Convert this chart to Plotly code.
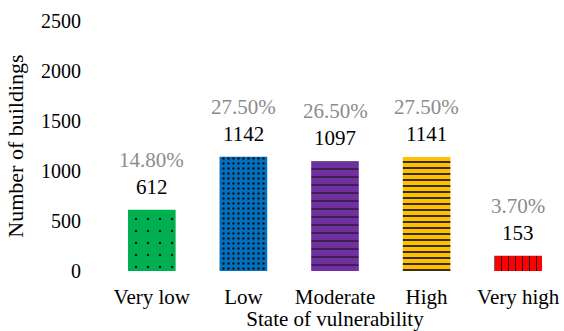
import plotly.graph_objects as go

categories = ["Very low", "Low", "Moderate", "High", "Very high"]
buildings = [612, 1142, 1097, 1141, 153]
percent_labels = ["14.80%", "27.50%", "26.50%", "27.50%", "3.70%"]
bar_colors = ["#00B050", "#0070C0", "#7030A0", "#FFC000", "#FF0000"]
pattern_shapes = [".", ".", "-", "-", "|"]
pattern_sizes = [12, 5, 8, 6, 7]
pattern_solidity = [0.03, 0.18, 0.13, 0.28, 0.15]
y_ticks = [0, 500, 1000, 1500, 2000, 2500]

FONT = "Liberation Serif"

fig = go.Figure()
for i, c in enumerate(categories):
    fig.add_trace(go.Bar(
        x=[c],
        y=[buildings[i]],
        marker=dict(
            color=bar_colors[i],
            line=dict(width=0),
            pattern=dict(
                shape=pattern_shapes[i],
                size=pattern_sizes[i],
                solidity=pattern_solidity[i],
                fgcolor="#111111",
                bgcolor=bar_colors[i],
                fgopacity=1,
                fillmode="overlay",
            ),
        ),
        width=0.52,
        hoverinfo="skip",
    ))

for c, v, p in zip(categories, buildings, percent_labels):
    fig.add_annotation(x=c, y=v, xref="x", yref="y", text=str(v), showarrow=False,
                       yanchor="middle", yshift=23,
                       font=dict(family=FONT, size=21, color="#000000"))
    fig.add_annotation(x=c, y=v, xref="x", yref="y", text=p, showarrow=False,
                       yanchor="middle", yshift=50,
                       font=dict(family=FONT, size=21, color="#8c8c8c"))

fig.update_layout(
    width=564, height=331,
    margin=dict(l=106, r=0, t=21, b=60),
    paper_bgcolor="white", plot_bgcolor="white",
    showlegend=False,
    barmode="overlay",
    font=dict(family=FONT, size=20, color="#000000"),
    xaxis=dict(
        categoryorder="array", categoryarray=categories,
        showline=False, showgrid=False, zeroline=False,
        ticks="outside", ticklen=7, tickcolor="rgba(0,0,0,0)",
        tickfont=dict(family=FONT, size=21),
        title=dict(text="State of vulnerability", font=dict(family=FONT, size=21), standoff=5),
    ),
    yaxis=dict(
        range=[0, 2500], tickvals=y_ticks,
        showline=False, showgrid=False, zeroline=False,
        ticks="outside", ticklen=20, tickcolor="rgba(0,0,0,0)",
        tickfont=dict(family=FONT, size=20),
        title=dict(text="Number of buildings", font=dict(family=FONT, size=22), standoff=11),
    ),
)

fig.write_html("out.html")
